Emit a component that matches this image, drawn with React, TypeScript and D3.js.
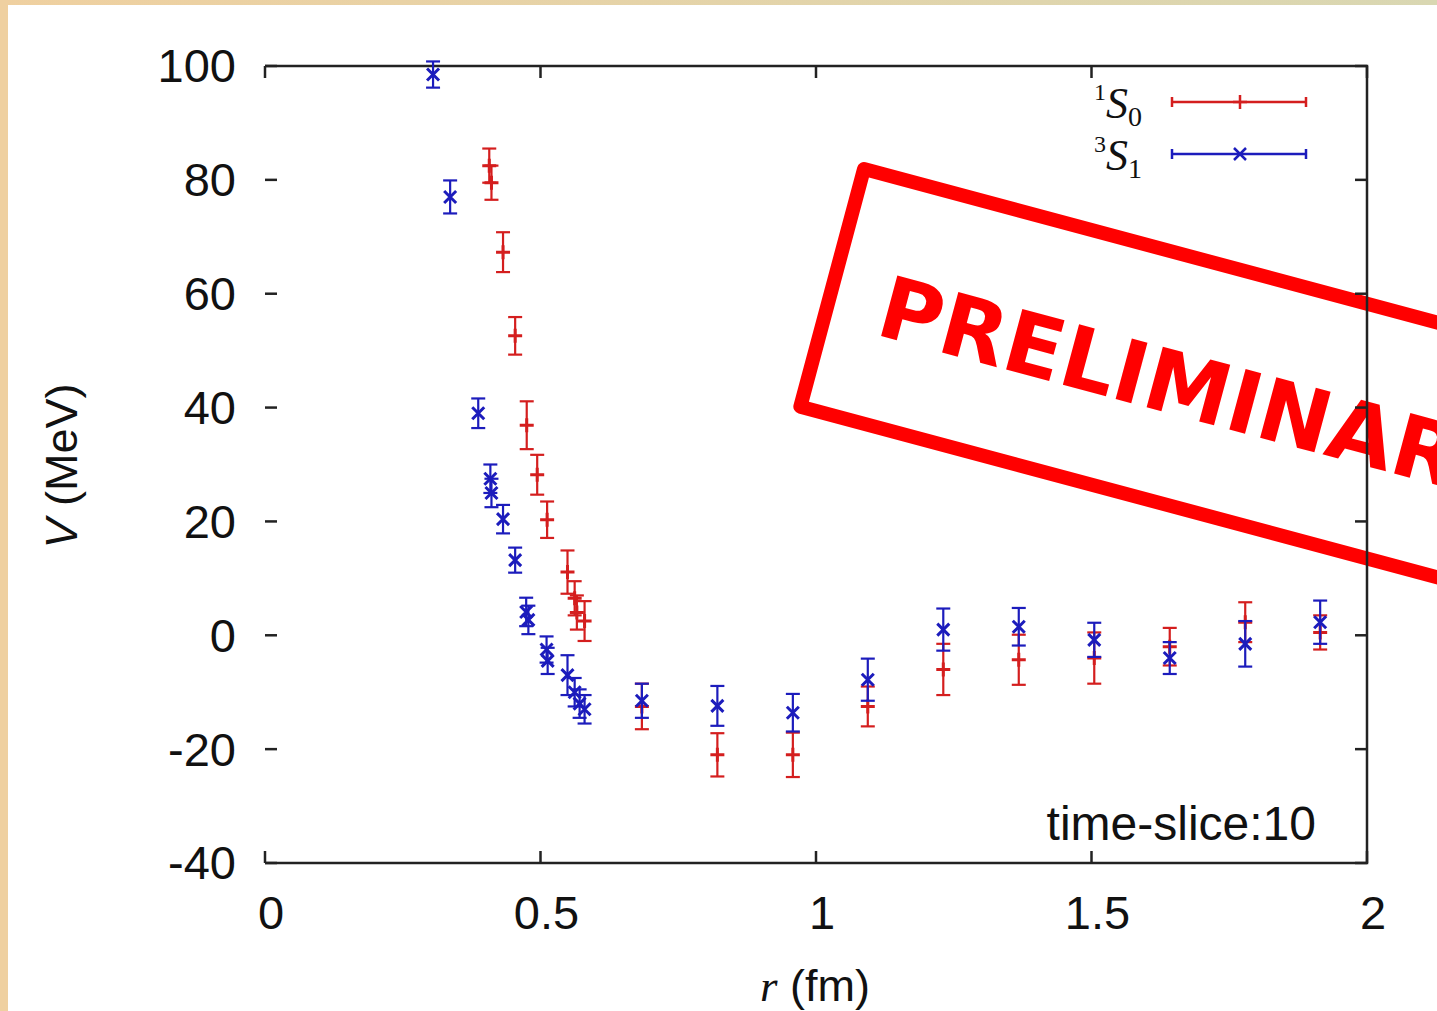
import React from "react";
import * as d3 from "d3";

const W = 1437;
const H = 1011;

// 1S0 channel (red, "+" points)
const s0R = [0.407, 0.411, 0.432, 0.454, 0.475, 0.494, 0.512, 0.549, 0.562, 0.566, 0.58, 0.684, 0.821, 0.958, 1.094, 1.231, 1.368, 1.505, 1.642, 1.779, 1.915];
const s0V = [82.5, 79.5, 67.3, 52.6, 36.9, 28.2, 20.3, 11.1, 6.5, 4, 2.5, -12.5, -21, -21, -12.5, -6, -4.3, -4, -2, 2.3, 0.5];
const s0E = [3, 3, 3.5, 3.3, 4.2, 3.5, 3.2, 3.8, 3, 3, 3.5, 4, 3.8, 3.9, 3.5, 4.5, 4.4, 4.5, 3.3, 3.5, 3];

// 3S1 channel (blue, "x" points)
const s1R = [0.305, 0.336, 0.387, 0.409, 0.411, 0.432, 0.454, 0.474, 0.478, 0.511, 0.513, 0.549, 0.562, 0.571, 0.58, 0.684, 0.821, 0.958, 1.094, 1.231, 1.368, 1.505, 1.642, 1.779, 1.915];
const s1V = [98.5, 77, 39, 27.5, 25, 20.4, 13.2, 4.1, 2.7, -2.5, -4.5, -7, -10, -12, -13, -11.5, -12.4, -13.6, -7.8, 1, 1.5, -0.8, -4, -1.5, 2.3];
const s1E = [2.3, 2.9, 2.6, 2.5, 2.5, 2.5, 2.2, 2.5, 2.5, 2.3, 2.3, 3.5, 2.5, 2.5, 2.5, 3, 3.5, 3.3, 3.7, 3.7, 3.3, 3, 2.8, 4, 3.8];

const xTicks = [0, 0.5, 1, 1.5, 2];
const xTickLabels = ["0", "0.5", "1", "1.5", "2"];
const yTicks = [-40, -20, 0, 20, 40, 60, 80, 100];

const RED = "#d41e1e";
const BLUE = "#1c1cbc";
const SANS = "'Liberation Sans', Arial, sans-serif";
const SERIF = "'Liberation Serif', 'Times New Roman', serif";

const plus = "M-7,0H7M0,-7V7";
const cross = "M-6,-6L6,6M-6,6L6,-6";

const x = d3.scaleLinear().domain([0, 2]).range([265, 1367]);
const y = d3.scaleLinear().domain([-40, 100]).range([863, 66]);

function Series({ rs, vs, es, color, marker }) {
  return (
    <g stroke={color} strokeWidth={2.2} fill="none">
      {rs.map((r, i) => {
        const cx = x(r);
        const top = y(vs[i] + es[i]);
        const bot = y(vs[i] - es[i]);
        return (
          <g key={i}>
            <line x1={cx} x2={cx} y1={top} y2={bot} />
            <line x1={cx - 7} x2={cx + 7} y1={top} y2={top} />
            <line x1={cx - 7} x2={cx + 7} y1={bot} y2={bot} />
            <path d={marker} transform={`translate(${cx},${y(vs[i])})`} strokeWidth={3} />
          </g>
        );
      })}
    </g>
  );
}

function LegendRow({ yPos, color, marker, sup, sub }) {
  return (
    <g>
      <text x={1142} y={yPos + 16} textAnchor="end" fontFamily={SERIF} fill="#111">
        <tspan fontSize={24} dy={-18}>{sup}</tspan>
        <tspan fontSize={44} fontStyle="italic" dy={18}>S</tspan>
        <tspan fontSize={28} dy={8}>{sub}</tspan>
      </text>
      <g stroke={color} strokeWidth={2.5}>
        <line x1={1172} x2={1306} y1={yPos} y2={yPos} />
        <line x1={1172} x2={1172} y1={yPos - 5} y2={yPos + 5} />
        <line x1={1306} x2={1306} y1={yPos - 5} y2={yPos + 5} />
        <path d={marker} transform={`translate(1240,${yPos})`} fill="none" />
      </g>
    </g>
  );
}

export default function App() {
  return (
    <svg
      width={W}
      height={H}
      style={{ position: "absolute", left: 0, top: 0, background: "#fff" }}
    >
      <defs>
        <linearGradient id="topband" x1="0" x2="1" y1="0" y2="0">
          <stop offset="0" stopColor="#efd0a0" />
          <stop offset="1" stopColor="#d9d7b2" />
        </linearGradient>
      </defs>
      <rect x={0} y={0} width={W} height={5} fill="url(#topband)" />
      <rect x={0} y={0} width={8} height={H} fill="#efd0a0" />

      {/* stamp, drawn under the frame */}
      <g transform="translate(864,169) rotate(15)">
        <rect x={0} y={0} width={900} height={246} fill="none" stroke="#ff0000" strokeWidth={14} strokeLinejoin="round" />
        <text x={52} y={157} fontFamily="'DejaVu Sans', sans-serif" fontWeight="bold" fontSize={86} fill="#ff0000">
          PRELIMINARY
        </text>
      </g>

      {/* frame: top, right, bottom */}
      <path d={`M${x(0)},${y(100)}H${x(2)}V${y(-40)}H${x(0)}`} fill="none" stroke="#222" strokeWidth={2.5} />

      {yTicks.map((t) => (
        <g key={t}>
          <line x1={x(0)} x2={x(0) + 12} y1={y(t)} y2={y(t)} stroke="#222" strokeWidth={2.5} />
          <line x1={x(2) - 12} x2={x(2)} y1={y(t)} y2={y(t)} stroke="#222" strokeWidth={2.5} />
          <text x={236} y={y(t)} dy="0.35em" textAnchor="end" fontFamily={SANS} fontSize={47} fill="#111">
            {t}
          </text>
        </g>
      ))}
      {xTicks.map((t, i) => (
        <g key={t}>
          <line x1={x(t)} x2={x(t)} y1={y(-40)} y2={y(-40) - 12} stroke="#222" strokeWidth={2.5} />
          <line x1={x(t)} x2={x(t)} y1={y(100)} y2={y(100) + 12} stroke="#222" strokeWidth={2.5} />
          <text x={x(t) + 6} y={913} dy="0.35em" textAnchor="middle" fontFamily={SANS} fontSize={47} fill="#111">
            {xTickLabels[i]}
          </text>
        </g>
      ))}

      <text x={815} y={1001} textAnchor="middle" fontFamily={SANS} fontSize={45} fill="#111">
        <tspan fontFamily={SERIF} fontStyle="italic">r</tspan> (fm)
      </text>
      <text transform="translate(77,466) rotate(-90)" textAnchor="middle" fontFamily={SANS} fontSize={45} fill="#111">
        <tspan fontStyle="italic">V</tspan> (MeV)
      </text>

      <text x={1316} y={840} textAnchor="end" fontFamily={SANS} fontSize={48} fill="#111">
        time-slice:10
      </text>

      <LegendRow yPos={102} color={RED} marker={plus} sup="1" sub="0" />
      <LegendRow yPos={154} color={BLUE} marker={cross} sup="3" sub="1" />

      <Series rs={s0R} vs={s0V} es={s0E} color={RED} marker={plus} />
      <Series rs={s1R} vs={s1V} es={s1E} color={BLUE} marker={cross} />
    </svg>
  );
}
